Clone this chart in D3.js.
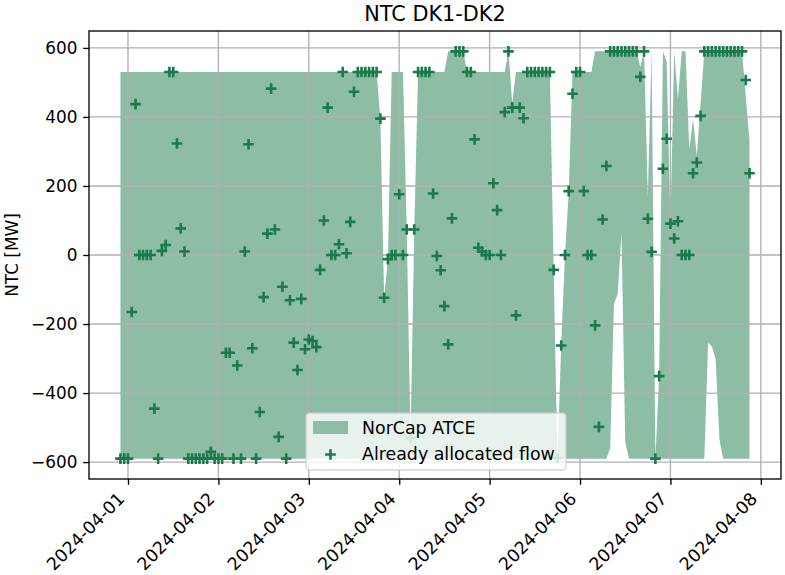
<!DOCTYPE html>
<html>
<head>
<meta charset="utf-8">
<script src="https://cdnjs.cloudflare.com/ajax/libs/d3/7.8.5/d3.min.js"></script>
<style>
  body { margin: 0; background: #fff; }
  text { font-family: "DejaVu Sans", sans-serif; }
</style>
</head>
<body>
<div id="chart"></div>
<script>
// hourly series, first point 2024-03-31 22:00 UTC
var startTime = Date.UTC(2024, 2, 31, 22);

var allocatedFlow = [
  -590, -590, -590, -165, 437, 0, 0, 0, 0, -445,
  -590, 12, 29, 530, 530, 323, 77, 10, -590, -590,
  -590, -590, -590, -590, -570, -590, -590, -590, -283, -283,
  -590, -320, -590, 10, 321, -270, -590, -455, -122, 62,
  482, 74, -527, -92, -590, -131, -254, -333, -127, -273,
  -245, -249, -267, -43, 100, 427, 0, 0, 31, 530,
  5, 96, 473, 530, 530, 530, 530, 530, 530, 395,
  -124, -12, 0, 0, 176, 0, 74, -530, 74, 530,
  530, 530, 530, 178, -3, -44, -148, -259, 106, 590,
  590, 590, 530, 530, 335, 21, 10, 0, 0, 208,
  130, 0, 414, 590, 427, -175, 427, 396, 530, 530,
  530, 530, 530, 530, 530, -43, -588, -262, 0, 185,
  467, 530, 530, 185, 0, 0, -204, -498, 103, 258,
  590, 590, 590, 590, 590, 590, 590, 590, 516, 590,
  105, 9, -590, -351, 250, 337, 91, 48, 98, 0,
  0, 0, 237, 268, 403, 590, 590, 590, 590, 590,
  590, 590, 590, 590, 590, 590, 507, 237
];

var atceUpper = [
  530, 530, 530, 530, 530, 530, 530, 530, 530, 530,
  530, 530, 530, 530, 530, 530, 530, 530, 530, 530,
  530, 530, 530, 530, 530, 530, 530, 530, 530, 530,
  530, 530, 530, 530, 530, 530, 530, 530, 530, 530,
  530, 530, 530, 530, 530, 530, 530, 530, 530, 530,
  530, 530, 530, 530, 530, 530, 530, 530, 530, 530,
  530, 530, 530, 530, 530, 530, 530, 530, 530, 395,
  -124, -12, 530, 530, 530, 530, 74, -530, 74, 530,
  530, 530, 530, 530, 530, 530, 530, 590, 590, 590,
  590, 590, 530, 530, 530, 530, 530, 530, 530, 530,
  530, 530, 530, 590, 440, 530, 530, 530, 530, 530,
  530, 530, 530, 530, 530, -43, -590, -262, 0, 185,
  530, 530, 530, 530, 530, 530, 590, 590, 590, 590,
  590, 590, 590, 590, 590, 590, 590, 590, 545, 590,
  170, 590, -590, -351, 590, 560, 91, 590, 451, 590,
  590, 306, 393, 287, 440, 590, 590, 590, 590, 590,
  590, 590, 590, 590, 590, 590, 460, 330
];

var atceLower = [
  -590, -590, -590, -590, -590, -590, -590, -590, -590, -590,
  -590, -590, -590, -590, -590, -590, -590, -590, -590, -590,
  -590, -590, -590, -590, -590, -590, -590, -590, -590, -590,
  -590, -590, -590, -590, -590, -590, -590, -590, -590, -590,
  -590, -590, -590, -590, -590, -590, -590, -590, -590, -590,
  -590, -590, -590, -590, -590, -590, -590, -590, -590, -590,
  -590, -590, -590, -590, -590, -590, -590, -590, -590, -590,
  -590, -590, -590, -590, -590, -590, -590, -590, -590, -590,
  -590, -590, -590, -590, -590, -590, -590, -590, -590, -590,
  -590, -590, -590, -590, -590, -590, -590, -590, -590, -590,
  -590, -590, -590, -590, -590, -590, -590, -590, -590, -590,
  -590, -590, -590, -590, -590, -590, -590, -590, -590, -590,
  -590, -590, -590, -590, -590, -590, -590, -590, -590, -590,
  -560, -142, -113, 64, -540, -590, -590, -590, -590, -590,
  -590, -590, -590, -590, -590, -590, -590, -590, -590, -590,
  -590, -590, -590, -590, -590, -590, -254, -265, -302, -534,
  -590, -590, -590, -590, -590, -590, -590, -590
];

var dayTicks = ["2024-04-01", "2024-04-02", "2024-04-03", "2024-04-04",
                "2024-04-05", "2024-04-06", "2024-04-07", "2024-04-08"];
var yTicks = [-600, -400, -200, 0, 200, 400, 600];

var width = 785, height = 575;
var margin = {top: 31, right: 4, bottom: 96, left: 89};
var fillColor = "#8ebda5",
    markerColor = "#1a7a4b",
    gridColor = "#b0b0b0";
var fs = "17.4px";

var rows = allocatedFlow.map(function(d, i) {
  return {t: new Date(startTime + i * 3600e3), flow: d, up: atceUpper[i], lo: atceLower[i]};
});

var t0 = rows[0].t.getTime(), t1 = rows[rows.length - 1].t.getTime();
var pad = (t1 - t0) * 0.05;
var x = d3.scaleUtc()
    .domain([new Date(t0 - pad), new Date(t1 + pad)])
    .range([margin.left, width - margin.right]);
var y = d3.scaleLinear()
    .domain([-649, 649])
    .range([height - margin.bottom, margin.top]);

var svg = d3.select("#chart").append("svg")
    .attr("width", width)
    .attr("height", height);

// title + y label
svg.append("text")
    .attr("x", (x.range()[0] + x.range()[1]) / 2)
    .attr("y", 21)
    .attr("text-anchor", "middle")
    .style("font-size", "20.8px")
    .text("NTC DK1-DK2");

svg.append("text")
    .attr("transform", "translate(18," + (y.range()[0] + y.range()[1]) / 2 + ") rotate(-90)")
    .attr("text-anchor", "middle")
    .style("font-size", "16.9px")
    .text("NTC [MW]");

// area
var area = d3.area()
    .x(function(d) { return x(d.t); })
    .y0(function(d) { return y(d.lo); })
    .y1(function(d) { return y(d.up); });

svg.append("path")
    .datum(rows)
    .attr("d", area)
    .attr("fill", fillColor);

// grid
var dayDates = dayTicks.map(function(s) { return new Date(s + "T00:00:00Z"); });
var grid = svg.append("g").attr("stroke", gridColor).attr("stroke-width", 1.33);
grid.selectAll(".gx").data(dayDates).enter().append("line")
    .attr("x1", function(d) { return x(d); }).attr("x2", function(d) { return x(d); })
    .attr("y1", y.range()[1]).attr("y2", y.range()[0]);
grid.selectAll(".gy").data(yTicks).enter().append("line")
    .attr("y1", function(d) { return y(d); }).attr("y2", function(d) { return y(d); })
    .attr("x1", x.range()[0]).attr("x2", x.range()[1]);

// markers
var plus = "M-5.3,0H5.3M0,-5.3V5.3";
svg.append("g").selectAll("path")
    .data(rows)
  .enter().append("path")
    .attr("d", plus)
    .attr("transform", function(d) { return "translate(" + x(d.t) + "," + y(d.flow) + ")"; })
    .attr("stroke", markerColor)
    .attr("stroke-width", 2.6)
    .attr("fill", "none");

// axes
var xAxis = d3.axisBottom(x)
    .tickValues(dayDates)
    .tickSize(5.8).tickPadding(5.8)
    .tickFormat(function(d, i) { return dayTicks[i]; });
var gx = svg.append("g")
    .attr("transform", "translate(0," + y.range()[0] + ")")
    .call(xAxis);
gx.select(".domain").remove();
gx.selectAll("line").attr("stroke", "#000").attr("stroke-width", 1.33);
gx.selectAll("text")
    .style("font-size", fs)
    .attr("fill", "#000")
    .attr("text-anchor", "end")
    .attr("dy", null)
    .attr("y", 0)
    .attr("transform", "translate(-3,21) rotate(-45)");

var yAxis = d3.axisLeft(y)
    .tickValues(yTicks)
    .tickSize(5.8).tickPadding(5.8)
    .tickFormat(function(d) { return d < 0 ? "\u2212" + Math.abs(d) : String(d); });
var gy = svg.append("g")
    .attr("transform", "translate(" + x.range()[0] + ",0)")
    .call(yAxis);
gy.select(".domain").remove();
gy.selectAll("line").attr("stroke", "#000").attr("stroke-width", 1.33);
gy.selectAll("text").style("font-size", "16.9px").attr("fill", "#000");

svg.append("rect")
    .attr("x", x.range()[0]).attr("y", y.range()[1])
    .attr("width", x.range()[1] - x.range()[0])
    .attr("height", y.range()[0] - y.range()[1])
    .attr("fill", "none").attr("stroke", "#000").attr("stroke-width", 1.33);

// legend
var lg = svg.append("g").attr("transform", "translate(306,413)");
lg.append("rect")
    .attr("width", 260).attr("height", 57).attr("rx", 3.5)
    .attr("fill", "#fff").attr("fill-opacity", 0.8)
    .attr("stroke", "#cccccc").attr("stroke-opacity", 0.8).attr("stroke-width", 1.33);
lg.append("rect")
    .attr("x", 7).attr("y", 8).attr("width", 35).attr("height", 13)
    .attr("fill", fillColor);
lg.append("text").attr("x", 56).attr("y", 21).style("font-size", fs).text("NorCap ATCE");
lg.append("path").attr("d", plus)
    .attr("transform", "translate(24.5,41.5)")
    .attr("stroke", markerColor).attr("stroke-width", 2.6).attr("fill", "none");
lg.append("text").attr("x", 56).attr("y", 46.5).style("font-size", fs).text("Already allocated flow");
</script>
</body>
</html>
